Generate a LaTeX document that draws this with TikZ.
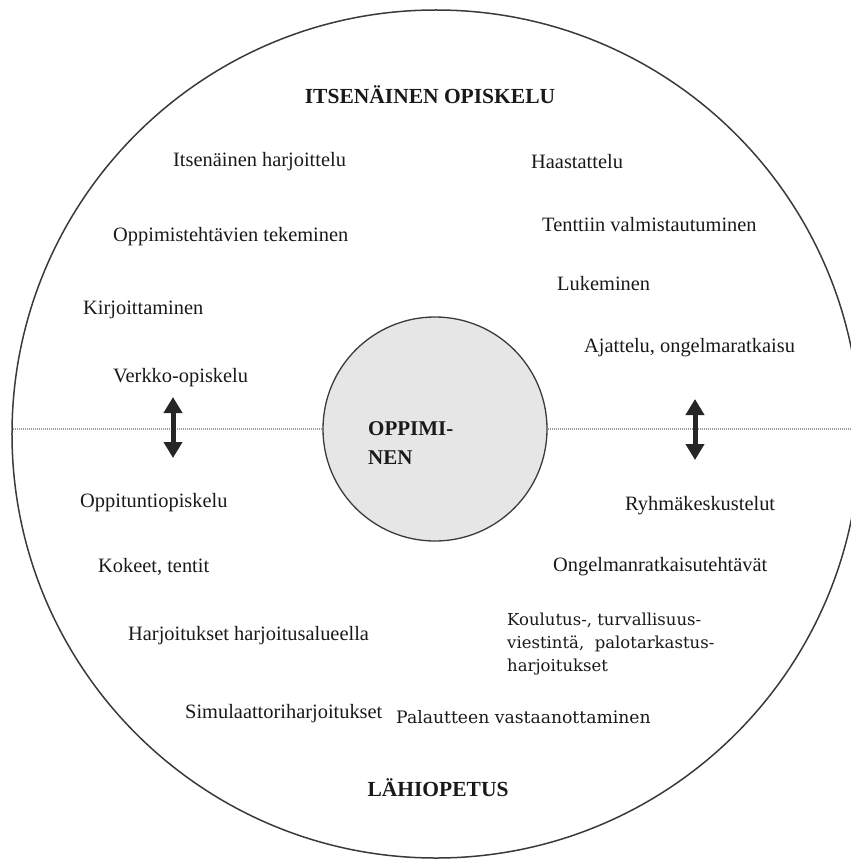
\documentclass[tikz,border=0pt]{standalone}
\usepackage{fontspec}
\setmainfont{Liberation Serif}
\newfontfamily\bkfont{DejaVu Serif}
\usetikzlibrary{arrows.meta}

\definecolor{ringcol}{HTML}{3A3A3A}
\definecolor{corefill}{HTML}{E6E6E6}
\definecolor{dotcol}{HTML}{9A9A9A}

\tikzset{
  item/.style={anchor=west, inner sep=0pt, font=\fontsize{20.4bp}{24bp}\selectfont, text=black!90},
  bkitem/.style={anchor=west, inner sep=0pt, align=left, font=\bkfont\fontsize{16.5bp}{23bp}\selectfont, text=black!90},
  heading/.style={inner sep=0pt, font=\bfseries\fontsize{21.5bp}{26bp}\selectfont, text=black!90},
  divider/.style={draw=dotcol, line width=1.6bp, dash pattern=on 1.2bp off 0.8bp},
  updown/.style={line width=5bp, draw=black!85,
    {Triangle[width=18bp,length=16bp]}-{Triangle[width=18bp,length=16bp]}},
}

\begin{document}
\begin{tikzpicture}[x=1bp, y=-1bp]
  \useasboundingbox (0,0) rectangle (851,859);
  \clip (0,0) rectangle (851,859);

  % outer ring and core
  \node[circle, draw=ringcol, line width=1.5bp, minimum size=848bp, inner sep=0pt] (outer) at (436,434) {};
  \node[circle, draw=ringcol, fill=corefill, line width=1.3bp, minimum size=224bp, inner sep=0pt] (core) at (435,429) {};
  \coordinate (rightend) at (851,429);

  % dividing line between the two halves
  \draw[divider] (core.west) -- (core.west -| outer.west);
  \draw[divider] (core.east) -- (rightend);

  % core label
  \node[anchor=north west, inner sep=0pt, align=left, font=\bfseries\fontsize{21bp}{29bp}\selectfont, text=black!90] (corelabel) at (368,421) {OPPIMI-\\NEN};

  % headings
  \node[heading] (top) at (430,95) {ITSENÄINEN OPISKELU};
  \node[heading] (bottom) at (438,788) {LÄHIOPETUS};

  % upper half: independent study
  \node[item] (a1) at (173,162) {Itsenäinen harjoittelu};
  \node[item] (a2) at (113,237) {Oppimistehtävien tekeminen};
  \node[item] (a3) at (83,310) {Kirjoittaminen};
  \node[item] (a4) at (113,378) {Verkko-opiskelu};
  \node[item] (b1) at (531,162) {Haastattelu};
  \node[item] (b2) at (542,225) {Tenttiin valmistautuminen};
  \node[item] (b3) at (557,284) {Lukeminen};
  \node[item] (b4) at (584,348) {Ajattelu, ongelmaratkaisu};

  % lower half: contact teaching
  \node[item] (c1) at (80,503) {Oppituntiopiskelu};
  \node[item] (c2) at (98,567) {Kokeet, tentit};
  \node[item] (c3) at (128,636) {Harjoitukset harjoitusalueella};
  \node[item] (c4) at (185,714) {Simulaattoriharjoitukset};
  \node[item] (d1) at (625,506) {Ryhmäkeskustelut};
  \node[item] (d2) at (553,567) {Ongelmanratkaisutehtävät};
  \node[bkitem] (d3) at (507,644) {Koulutus-, turvallisuus-\\viestintä,\ \ palotarkastus-\\harjoitukset};
  \node[bkitem, font=\bkfont\fontsize{17.2bp}{23bp}\selectfont] (d4) at (396,717) {Palautteen vastaanottaminen};

  % two-way arrows across the divide
  \coordinate (lup) at (173,397);
  \coordinate (ldown) at (173,458);
  \coordinate (rup) at (695,399);
  \coordinate (rdown) at (695,460);
  \draw[updown] (lup) -- (ldown);
  \draw[updown] (rup) -- (rdown);
\end{tikzpicture}
\end{document}
